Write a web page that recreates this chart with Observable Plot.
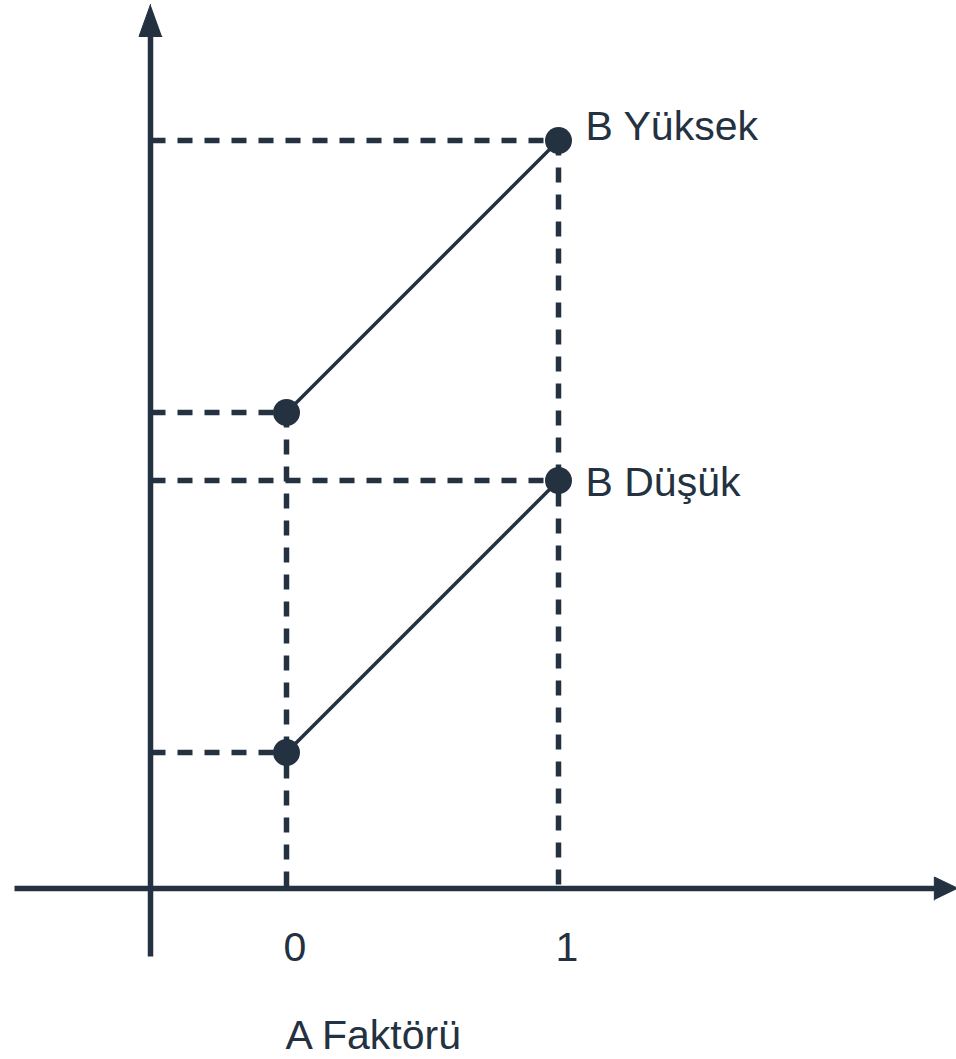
<!DOCTYPE html>
<html>
<head>
<meta charset="utf-8">
<script src="https://cdn.jsdelivr.net/npm/d3@7"></script>
<script src="https://cdn.jsdelivr.net/npm/@observablehq/plot@0.6"></script>
<style>
  html, body { margin: 0; padding: 0; background: #ffffff; }
  #chart svg { display: block; }
</style>
</head>
<body>
<div id="chart"></div>
<script>
// Interaction plot: response at the two levels of factor A, for low and high B
const levelsA = [0, 1];
const lowB = [1, 3];
const highB = [3.5, 5.5];
const seriesNames = ["B Düşük", "B Yüksek"];
const tickLabels = ["0", "1"];
const xTitle = "A Faktörü";

// axis extents in data units (origin of the drawn axes sits at x = -0.5, y = 0)
const axisX = { from: -1, to: 2.47, at: 0 };
const axisY = { from: -0.5, to: 6.5, at: -0.5 };

const ink = "#243140";
const font = "'Liberation Sans', Arial, Helvetica, sans-serif";
const fontSize = 41;

// pixel placement of the unit square
const X0 = 286, X1 = 558, Y0 = 888, Y1 = 752;
const kx = X1 - X0, ky = Y0 - Y1;

const rows = [
  ...levelsA.map((a, i) => ({ a, value: lowB[i], series: seriesNames[0] })),
  ...levelsA.map((a, i) => ({ a, value: highB[i], series: seriesNames[1] }))
];

// one vertical guide per level of A, dropped from its highest point
const drops = levelsA.map(a => ({ a, value: d3.max(rows.filter(r => r.a === a), r => r.value) }));

// filled arrowheads (lengths and half-width in pixels)
const headLenY = 32, headLenX = 24, headHalf = 11.5;
const headY = [
  { x: axisY.at, y: axisY.to },
  { x: axisY.at - headHalf / kx, y: axisY.to - headLenY / ky },
  { x: axisY.at + headHalf / kx, y: axisY.to - headLenY / ky }
];
const headX = [
  { x: axisX.to, y: axisX.at },
  { x: axisX.to - headLenX / kx, y: axisX.at + headHalf / ky },
  { x: axisX.to - headLenX / kx, y: axisX.at - headHalf / ky }
];

const endLabels = rows.filter(r => r.a === levelsA[levelsA.length - 1]);

const chart = Plot.plot({
  width: 956,
  height: 1059,
  margin: 0,
  style: { background: "#ffffff", fontFamily: font },
  x: { domain: [0, 1], range: [X0, X1], axis: null },
  y: { domain: [0, 1], range: [Y0, Y1], axis: null },
  marks: [
    // dashed guides to the y axis
    Plot.link(rows, {
      x1: axisY.at, x2: "a", y1: "value", y2: "value",
      stroke: ink, strokeWidth: 5.5, strokeDasharray: "15 12"
    }),
    // dashed guides down to the x axis
    Plot.link(drops, {
      x1: "a", x2: "a", y1: "value", y2: axisX.at,
      stroke: ink, strokeWidth: 5.5, strokeDasharray: "15 12"
    }),
    // axes
    Plot.link([axisX], {
      x1: d => d.from, x2: d => d.to - headLenX / kx, y1: d => d.at, y2: d => d.at,
      stroke: ink, strokeWidth: 5.5
    }),
    Plot.link([axisY], {
      x1: d => d.at, x2: d => d.at, y1: d => d.from, y2: d => d.to - headLenY / ky,
      stroke: ink, strokeWidth: 5.5
    }),
    Plot.line(headY, { x: "x", y: "y", fill: ink, stroke: ink, strokeWidth: 1 }),
    Plot.line(headX, { x: "x", y: "y", fill: ink, stroke: ink, strokeWidth: 1 }),
    // series lines and points
    Plot.line(rows, { x: "a", y: "value", z: "series", stroke: ink, strokeWidth: 3.5 }),
    Plot.dot(rows, { x: "a", y: "value", r: 13.5, fill: ink, stroke: "none" }),
    // series labels
    Plot.text(endLabels.filter(r => r.series === seriesNames[1]), {
      x: "a", y: "value", text: "series", dx: 27, dy: -14,
      textAnchor: "start", lineAnchor: "middle", fontSize, fill: ink
    }),
    Plot.text(endLabels.filter(r => r.series === seriesNames[0]), {
      x: "a", y: "value", text: "series", dx: 27, dy: 2.5,
      textAnchor: "start", lineAnchor: "middle", fontSize, fill: ink
    }),
    // tick labels and axis title
    Plot.text(levelsA, {
      x: d => d, y: axisX.at, text: (d, i) => tickLabels[i], dx: -3, dy: 59.5,
      textAnchor: "start", lineAnchor: "middle", fontSize, fill: ink
    }),
    Plot.text([xTitle], {
      x: levelsA[0], y: axisX.at, text: d => d, dx: -1, dy: 147,
      textAnchor: "start", lineAnchor: "middle", fontSize, fill: ink
    })
  ]
});

document.getElementById("chart").appendChild(chart);
</script>
</body>
</html>
